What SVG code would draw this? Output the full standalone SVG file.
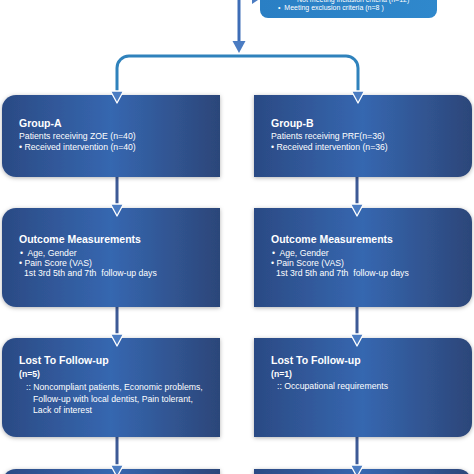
<svg xmlns="http://www.w3.org/2000/svg" width="474" height="474" viewBox="0 0 474 474">
<defs>
<linearGradient id="boxg" x1="0" y1="0" x2="1" y2="0">
<stop offset="0" stop-color="#2b4a84"/>
<stop offset="0.5" stop-color="#3667b0"/>
<stop offset="1" stop-color="#2c4679"/>
</linearGradient>
<linearGradient id="topg" x1="0" y1="0" x2="1" y2="0">
<stop offset="0" stop-color="#2a7fc4"/>
<stop offset="1" stop-color="#2f88cc"/>
</linearGradient>
<filter id="sh" x="-10%" y="-10%" width="120%" height="120%">
<feDropShadow dx="0" dy="1" stdDeviation="2" flood-color="#000" flood-opacity="0.3"/>
</filter>
<polygon id="arr" points="-6.5,0 6.5,0 0,12"/>
</defs>
<style>
.box{fill:url(#boxg);filter:url(#sh)}
.t{font-family:"Liberation Sans",Arial,Helvetica,sans-serif;fill:#fff}
.h{font-size:10.5px;font-weight:bold}
.b{font-size:8.7px}
.nb{font-size:8.7px;font-weight:bold}
.s{font-size:7px}
.ln{fill:none;stroke:#3d5a96;stroke-width:3}
.ah{fill:#4b7cc2;stroke:#fff;stroke-width:1.3;stroke-linejoin:round}
</style>

<g id="excluded">
<path d="M260,-10 H437 V10 A8 8 0 0 1 429 18 H268 A8 8 0 0 1 260 10 Z" fill="url(#topg)"/>
<text class="t s" x="297" y="1.5">Not meeting inclusion criteria (n=12)</text>
<text class="t s" x="278" y="10">•&#160; Meeting exclusion criteria (n=8 )</text>
</g>

<g id="connectors">
<line x1="239" y1="-2" x2="253" y2="-2" stroke="#3d6db6" stroke-width="3"/>
<polygon points="252,-8 261,-2 252,4" fill="#4b7cc2"/>
<line x1="239" y1="0" x2="239" y2="44" stroke="#3d6db6" stroke-width="3"/>
<use href="#arr" x="239" y="41" fill="#4b7cc2"/>
<path d="M117,93 V68 A12 12 0 0 1 129 56 H346 A12 12 0 0 1 358 68 V93" fill="none" stroke="#2f82bc" stroke-width="3"/>
<line class="ln" x1="117" y1="177" x2="117" y2="206"/>
<line class="ln" x1="357" y1="177" x2="357" y2="206"/>
<line class="ln" x1="117" y1="307" x2="117" y2="336"/>
<line class="ln" x1="357" y1="307" x2="357" y2="336"/>
<line class="ln" x1="117" y1="437" x2="117" y2="467"/>
<line class="ln" x1="357" y1="437" x2="357" y2="467"/>
</g>

<g id="groupA">
<path class="box" d="M16,95 H220 V177 H16 A14 14 0 0 1 2 163 V109 A14 14 0 0 1 16 95 Z"/>
<text class="t h" x="19" y="127">Group-A</text>
<text class="t b" x="19" y="138.5">Patients receiving ZOE (n=40)</text>
<text class="t b" x="19" y="149.5">• Received intervention (n=40)</text>
</g>
<g id="groupB">
<path class="box" d="M254,95 H458 A14 14 0 0 1 472 109 V163 A14 14 0 0 1 458 177 H254 Z"/>
<text class="t h" x="271" y="127">Group-B</text>
<text class="t b" x="271" y="138.5">Patients receiving PRF(n=36)</text>
<text class="t b" x="271" y="149.5">• Received intervention (n=36)</text>
</g>

<g id="outcomeA">
<path class="box" d="M16,208 H220 V307 H16 A14 14 0 0 1 2 293 V222 A14 14 0 0 1 16 208 Z"/>
<text class="t h" x="19" y="242.5">Outcome Measurements</text>
<text class="t b" x="20" y="255.5">•&#160; Age, Gender</text>
<text class="t b" x="19" y="266">• Pain Score (VAS)</text>
<text class="t b" x="24" y="276">1st 3rd 5th and 7th&#160; follow-up days</text>
</g>
<g id="outcomeB">
<path class="box" d="M254,208 H458 A14 14 0 0 1 472 222 V293 A14 14 0 0 1 458 307 H254 Z"/>
<text class="t h" x="271" y="242.5">Outcome Measurements</text>
<text class="t b" x="272" y="255.5">•&#160; Age, Gender</text>
<text class="t b" x="271" y="266">• Pain Score (VAS)</text>
<text class="t b" x="276" y="276">1st 3rd 5th and 7th&#160; follow-up days</text>
</g>

<g id="lostA">
<path class="box" d="M16,338 H220 V437 H16 A14 14 0 0 1 2 423 V352 A14 14 0 0 1 16 338 Z"/>
<text class="t h" x="19" y="364">Lost To Follow-up</text>
<text class="t nb" x="19" y="377">(n=5)</text>
<text class="t b" x="26" y="390">:: Noncompliant patients, Economic problems,</text>
<text class="t b" x="33" y="401.5">Follow-up with local dentist, Pain tolerant,</text>
<text class="t b" x="33" y="413">Lack of interest</text>
</g>
<g id="lostB">
<path class="box" d="M254,338 H458 A14 14 0 0 1 472 352 V423 A14 14 0 0 1 458 437 H254 Z"/>
<text class="t h" x="271" y="363.5">Lost To Follow-up</text>
<text class="t nb" x="271" y="376.5">(n=1)</text>
<text class="t b" x="277" y="389">:: Occupational requirements</text>
</g>

<g id="finalA">
<path class="box" d="M16,469 H220 V500 H2 V483 A14 14 0 0 1 16 469 Z"/>
</g>
<g id="finalB">
<path class="box" d="M254,469 H458 A14 14 0 0 1 472 483 V500 H254 Z"/>
</g>

<g id="arrowheads">
<use href="#arr" x="117" y="91" class="ah"/>
<use href="#arr" x="358" y="91" class="ah"/>
<use href="#arr" x="117" y="204" class="ah"/>
<use href="#arr" x="357" y="204" class="ah"/>
<use href="#arr" x="117" y="334" class="ah"/>
<use href="#arr" x="357" y="334" class="ah"/>
<use href="#arr" x="117" y="465" class="ah"/>
<use href="#arr" x="357" y="465" class="ah"/>
</g>
</svg>
